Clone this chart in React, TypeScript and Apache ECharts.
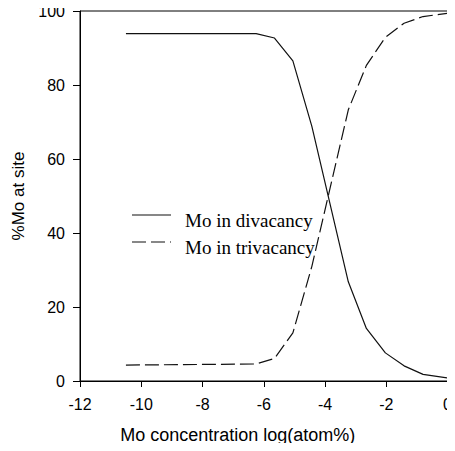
import React, { useEffect, useRef } from "react";
import * as echarts from "echarts";

const logConc = [-10.5, -6.25, -5.65, -5.05, -4.43, -3.24, -2.65, -2.03, -1.42, -0.8, 0];
const divacancy = [93.9, 93.9, 92.7, 86.5, 68.8, 26.8, 14.2, 7.6, 4.1, 1.8, 0.8];
const trivacancy = [4.3, 4.6, 6.1, 13.0, 31.0, 73.3, 85.3, 92.9, 96.7, 98.5, 99.4];
const seriesNames = ["Mo in divacancy", "Mo in trivacancy"];

export default function App() {
  const ref = useRef<HTMLDivElement>(null);
  useEffect(() => {
    if (!ref.current) return;
    const chart = echarts.init(ref.current, undefined, { renderer: "svg" });
    const pair = (ys: number[]) => logConc.map((x, i) => [x, ys[i]]);
    const axisLine = { show: true, onZero: false, lineStyle: { color: "#000", width: 1 } };
    const dash = [14, 5];
    const legendRows = seriesNames.map((name, i) => {
      const y = 215 + i * 27;
      return {
        type: "group",
        children: [
          {
            type: "line",
            shape: { x1: 132, y1: y, x2: 171, y2: y },
            style: { stroke: "#111", lineWidth: 1.2, lineDash: i === 0 ? null : dash },
          },
          {
            type: "text",
            x: 185,
            y: y + 5,
            style: {
              text: name,
              fontFamily: "Liberation Serif",
              fontSize: 19,
              fill: "#000",
              verticalAlign: "middle",
              align: "left",
            },
          },
        ],
      };
    });
    chart.setOption({
      animation: false,
      backgroundColor: "#fff",
      grid: {
        left: 80,
        right: 5,
        top: 11,
        bottom: 70,
        show: true,
        borderColor: "#000",
        borderWidth: 1,
      },
      graphic: legendRows,
      xAxis: {
        type: "value",
        min: -12,
        max: 0,
        interval: 2,
        name: "Mo concentration log(atom%)",
        nameLocation: "middle",
        nameGap: 45,
        nameTextStyle: {
          fontFamily: "Liberation Sans",
          fontSize: 18,
          color: "#000",
          padding: [0, 52, 0, 0],
        },
        axisLine,
        axisTick: { show: true, inside: false, length: 6, lineStyle: { color: "#000" } },
        axisLabel: { fontFamily: "Liberation Sans", fontSize: 16, color: "#000", margin: 15 },
        splitLine: { show: false },
      },
      yAxis: {
        type: "value",
        min: 0,
        max: 100,
        interval: 20,
        name: "%Mo at site",
        nameLocation: "middle",
        nameGap: 53,
        nameTextStyle: { fontFamily: "Liberation Sans", fontSize: 17, color: "#000" },
        axisLine,
        axisTick: { show: true, inside: false, length: 7, lineStyle: { color: "#000" } },
        axisLabel: { fontFamily: "Liberation Sans", fontSize: 16, color: "#000", margin: 15 },
        splitLine: { show: false },
      },
      series: [
        {
          name: seriesNames[0],
          type: "line",
          data: pair(divacancy),
          symbol: "none",
          lineStyle: { color: "#111", width: 1.2, type: "solid" },
        },
        {
          name: seriesNames[1],
          type: "line",
          data: pair(trivacancy),
          symbol: "none",
          lineStyle: { color: "#111", width: 1.2, type: dash },
        },
      ],
    });
    return () => chart.dispose();
  }, []);
  return <div ref={ref} style={{ width: 455, height: 451, margin: -8 }} />;
}
